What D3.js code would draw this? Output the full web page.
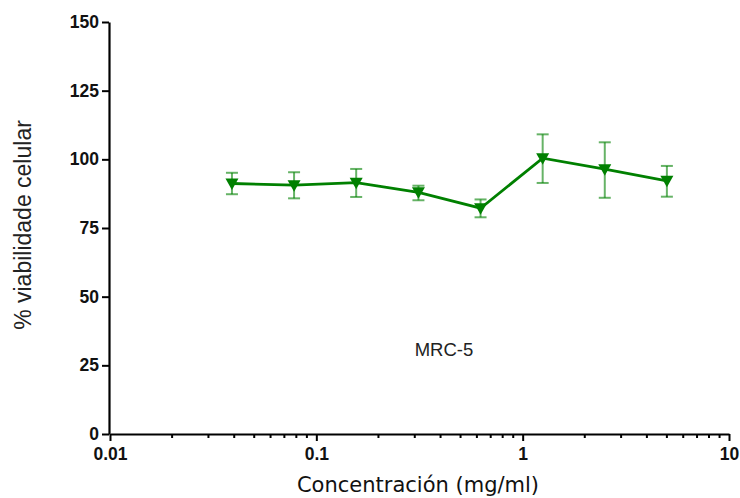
<!DOCTYPE html>
<html>
<head>
<meta charset="utf-8">
<script src="https://cdn.jsdelivr.net/npm/d3@7"></script>
<style>
  html, body { margin: 0; padding: 0; background: #fff; }
  svg { display: block; }
</style>
</head>
<body>
<script>
// Data
const conc = [0.039, 0.078, 0.156, 0.3125, 0.625, 1.25, 2.5, 5];
const viab = [91.2, 90.6, 91.5, 88.0, 82.2, 100.4, 96.4, 92.2];
const errUp = [95.1, 95.3, 96.5, 90.4, 85.4, 109.1, 106.2, 97.6];
const errDown = [87.3, 85.8, 86.3, 85.1, 78.9, 91.4, 86.0, 86.4];
const yTicks = [0, 25, 50, 75, 100, 125, 150];
const xTicks = [0.01, 0.1, 1, 10];

const width = 740, height = 498;
const margin = {left: 110, right: 11, top: 22, bottom: 64};

const svg = d3.select("body").append("svg").attr("width", width).attr("height", height);

// Scales
const x = d3.scaleLog().domain([0.01, 10]).range([margin.left, width - margin.right]);
const y = d3.scaleLinear().domain([0, 150]).range([height - margin.bottom, margin.top]);

const green = "#008000";
const tickFont = "'Liberation Sans', Arial, sans-serif";

// Axes
const yAxis = svg.append("g")
  .attr("transform", `translate(${margin.left - 1},0)`)
  .call(d3.axisLeft(y).tickValues(yTicks).tickSize(7).tickPadding(3).tickSizeOuter(0));
yAxis.select(".domain").attr("stroke-width", 2.2);
yAxis.selectAll(".tick line").attr("stroke-width", 2);
yAxis.selectAll("text")
  .attr("font-family", tickFont).attr("font-weight", "bold").attr("font-size", 17.5).attr("fill", "#111");

// minor ticks (2..9 in each decade)
const minor = [];
[0.01, 0.1, 1].forEach(d => { for (let k = 2; k <= 9; k++) minor.push(d * k); });

const xAxis = svg.append("g")
  .attr("transform", `translate(0,${y(0)})`)
  .call(d3.axisBottom(x).tickValues(xTicks).tickFormat(d => String(d)).tickSize(7).tickPadding(7).tickSizeOuter(0));
xAxis.select(".domain").attr("stroke-width", 2.2);
xAxis.selectAll(".tick line").attr("stroke-width", 2);
xAxis.selectAll("text")
  .attr("font-family", tickFont).attr("font-weight", "bold").attr("font-size", 17.5).attr("fill", "#111");

svg.append("g")
  .attr("transform", `translate(0,${y(0)})`)
  .selectAll("line").data(minor).join("line")
  .attr("x1", d => x(d)).attr("x2", d => x(d))
  .attr("y1", 0).attr("y2", 4)
  .attr("stroke", "#000").attr("stroke-width", 2);

// Axis titles
svg.append("text")
  .attr("transform", `translate(31,225) rotate(-90)`)
  .attr("text-anchor", "middle")
  .attr("font-family", "'Liberation Sans', Arial, sans-serif")
  .attr("font-size", 23).attr("fill", "#222")
  .text("% viabilidade celular");

svg.append("text")
  .attr("x", 418).attr("y", 492)
  .attr("text-anchor", "middle")
  .attr("font-family", "'DejaVu Sans', Verdana, sans-serif")
  .attr("font-size", 21).attr("fill", "#111")
  .text("Concentración (mg/ml)");

svg.append("text")
  .attr("x", 444).attr("y", 356)
  .attr("text-anchor", "middle")
  .attr("font-family", "'Liberation Sans', Arial, sans-serif")
  .attr("font-size", 18.5).attr("fill", "#222")
  .text("MRC-5");

// Error bars
const eb = svg.append("g").attr("stroke", green).attr("stroke-opacity", 0.6).attr("stroke-width", 2);
conc.forEach((c, i) => {
  const cx = x(c);
  eb.append("line").attr("x1", cx).attr("x2", cx).attr("y1", y(errUp[i])).attr("y2", y(errDown[i]));
  eb.append("line").attr("x1", cx - 6).attr("x2", cx + 6).attr("y1", y(errUp[i])).attr("y2", y(errUp[i]));
  eb.append("line").attr("x1", cx - 6).attr("x2", cx + 6).attr("y1", y(errDown[i])).attr("y2", y(errDown[i]));
});

// Line
const line = d3.line().x((d, i) => x(conc[i])).y(d => y(d));
svg.append("path").datum(viab)
  .attr("d", line).attr("fill", "none")
  .attr("stroke", green).attr("stroke-width", 2.8);

// Markers (down triangles)
svg.append("g").selectAll("path").data(viab).join("path")
  .attr("transform", (d, i) => `translate(${x(conc[i])},${y(d)})`)
  .attr("d", "M-6.5,-5L6.5,-5L0,6.5Z")
  .attr("fill", green);
</script>
</body>
</html>
